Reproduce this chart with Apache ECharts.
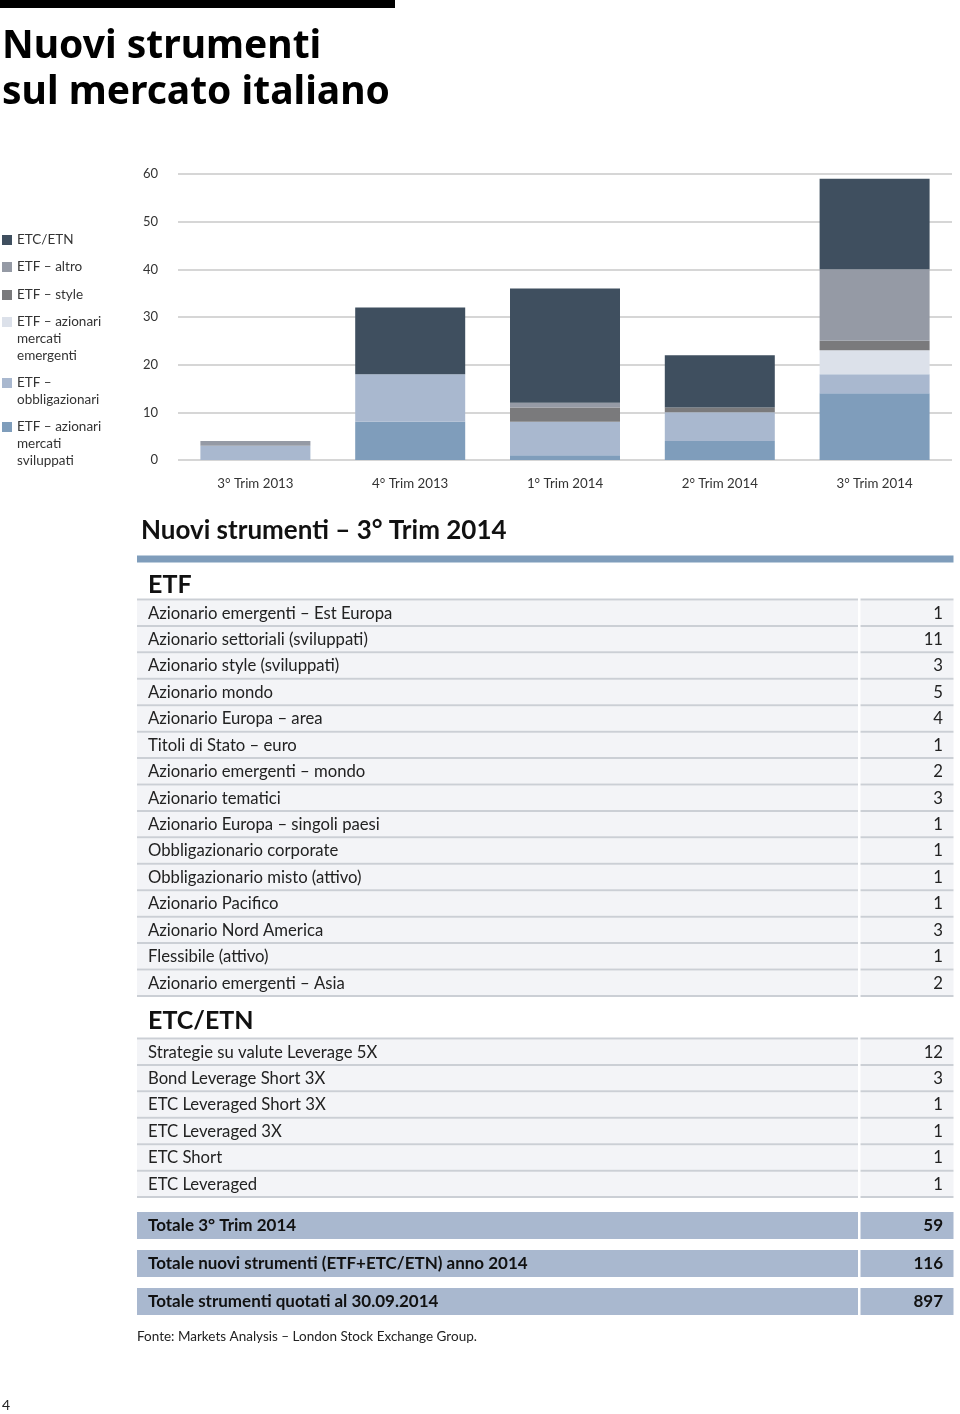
<!DOCTYPE html>
<html>
<head>
<meta charset="utf-8">
<script src="https://cdn.jsdelivr.net/npm/echarts@6/dist/echarts.min.js"></script>
<style>
html,body{margin:0;padding:0;background:#fff;}
#chart{width:960px;height:1414px;}
</style>
</head>
<body>
<div id="chart"></div>
<script>
// ---- Chart data ----
const categories = ['3° Trim 2013', '4° Trim 2013', '1° Trim 2014', '2° Trim 2014', '3° Trim 2014'];
const yTicks = [0, 10, 20, 30, 40, 50, 60];
const etfSviluppati = [0, 8, 1, 4, 14];
const etfObbligazionari = [3, 10, 7, 6, 4];
const etfEmergenti = [0, 0, 0, 0, 5];
const etfStyle = [0, 0, 3, 1, 2];
const etfAltro = [1, 0, 1, 0, 15];
const etcEtn = [0, 14, 24, 11, 19];

const seriesNames = ['ETF – azionari mercati sviluppati', 'ETF – obbligazionari', 'ETF – azionari mercati emergenti', 'ETF – style', 'ETF – altro', 'ETC/ETN'];
const legendOrder = ['ETC/ETN', 'ETF – altro', 'ETF – style', 'ETF – azionari mercati emergenti', 'ETF – obbligazionari', 'ETF – azionari mercati sviluppati'];
const legendLabels = ['ETC/ETN', 'ETF – altro', 'ETF – style', 'ETF – azionari\nmercati\nemergenti', 'ETF –\nobbligazionari', 'ETF – azionari\nmercati\nsviluppati'];

// ---- Table data ----
const pageTitle = 'Nuovi strumenti\nsul mercato italiano';
const tableTitle = 'Nuovi strumenti – 3° Trim 2014';
const etfHeader = 'ETF';
const etfLabels = ['Azionario emergenti – Est Europa', 'Azionario settoriali (sviluppati)', 'Azionario style (sviluppati)', 'Azionario mondo', 'Azionario Europa – area', 'Titoli di Stato – euro', 'Azionario emergenti – mondo', 'Azionario tematici', 'Azionario Europa – singoli paesi', 'Obbligazionario corporate', 'Obbligazionario misto (attivo)', 'Azionario Pacifico', 'Azionario Nord America', 'Flessibile (attivo)', 'Azionario emergenti – Asia'];
const etfValues = [1, 11, 3, 5, 4, 1, 2, 3, 1, 1, 1, 1, 3, 1, 2];
const etcHeader = 'ETC/ETN';
const etcLabels = ['Strategie su valute Leverage 5X', 'Bond Leverage Short 3X', 'ETC Leveraged Short 3X', 'ETC Leveraged 3X', 'ETC Short', 'ETC Leveraged'];
const etcValues = [12, 3, 1, 1, 1, 1];
const totalLabels = ['Totale 3° Trim 2014', 'Totale nuovi strumenti (ETF+ETC/ETN) anno 2014', 'Totale strumenti quotati al 30.09.2014'];
const totalValues = [59, 116, 897];
const sourceNote = 'Fonte: Markets Analysis – London Stock Exchange Group.';
const pageNumber = '4';

// ---- Styling ----
const FONT = 'Lato';
const colors = {
  'ETF – azionari mercati sviluppati': '#7f9dbb',
  'ETF – obbligazionari': '#a9b8cf',
  'ETF – azionari mercati emergenti': '#dce1ea',
  'ETF – style': '#7a7a7c',
  'ETF – altro': '#959aa5',
  'ETC/ETN': '#3f4f5f'
};
const seriesData = [etfSviluppati, etfObbligazionari, etfEmergenti, etfStyle, etfAltro, etcEtn];

const legendY = [240, 267, 295, 322, 383, 427];
const legends = legendOrder.map((name, i) => {
  const label = legendLabels[i];
  const n = label.split('\n').length;
  // blank leading lines so the first text line sits level with the icon
  const shown = '\n'.repeat(n - 1) + label;
  return {
    data: [name], orient: 'vertical', left: 2, top: legendY[i] - (2 * n - 1) * 8.5,
    padding: 0, itemWidth: 10, itemHeight: 10, itemGap: 0, icon: 'rect',
    selectedMode: false, formatter: () => shown,
    textStyle: { fontFamily: FONT, fontSize: 13.5, lineHeight: 17, color: '#333' }
  };
});

// ---- Table graphics ----
const g = [];
g.push({ type: 'rect', shape: { x: 0, y: 0, width: 395, height: 8 }, style: { fill: '#000' } });
g.push({ type: 'text', x: 2, y: 24, style: { text: pageTitle, font: 'bold 39px "Noto Sans"', fill: '#000', lineHeight: 46 } });
g.push({ type: 'text', x: 141, y: 531, style: { text: tableTitle, font: 'bold 26px ' + FONT, fill: '#111', verticalAlign: 'middle' } });
const L = 137, LR = 858, VL = 860.5, R = 953.5, ROWH = 26.43;
g.push({ type: 'rect', shape: { x: L, y: 555.5, width: R - L, height: 7 }, style: { fill: '#7f9dbb' } });

function addRows(labels, values, top0) {
  labels.forEach((lab, i) => {
    const top = top0 + i * ROWH;
    g.push({ type: 'rect', shape: { x: L, y: top + 2, width: LR - L, height: ROWH - 2 }, style: { fill: '#f3f4f7' } });
    g.push({ type: 'rect', shape: { x: VL, y: top + 2, width: R - VL, height: ROWH - 2 }, style: { fill: '#f3f4f7' } });
    g.push({ type: 'rect', shape: { x: L, y: top, width: LR - L, height: 2 }, style: { fill: '#cbcfd5' } });
    g.push({ type: 'rect', shape: { x: VL, y: top, width: R - VL, height: 2 }, style: { fill: '#cbcfd5' } });
    g.push({ type: 'text', x: 148, y: top + ROWH / 2 + 1.5, style: { text: lab, font: '16.7px ' + FONT, fill: '#222', verticalAlign: 'middle' } });
    g.push({ type: 'text', x: 943, y: top + ROWH / 2 + 1.5, style: { text: String(values[i]), font: '16.7px ' + FONT, fill: '#222', verticalAlign: 'middle', align: 'right' } });
  });
  const bottom = top0 + labels.length * ROWH;
  g.push({ type: 'rect', shape: { x: L, y: bottom, width: LR - L, height: 2 }, style: { fill: '#cbcfd5' } });
  g.push({ type: 'rect', shape: { x: VL, y: bottom, width: R - VL, height: 2 }, style: { fill: '#cbcfd5' } });
}
g.push({ type: 'text', x: 148, y: 585, style: { text: etfHeader, font: 'bold 25px ' + FONT, fill: '#111', verticalAlign: 'middle' } });
addRows(etfLabels, etfValues, 598.5);
g.push({ type: 'text', x: 148, y: 1021, style: { text: etcHeader, font: 'bold 25px ' + FONT, fill: '#111', verticalAlign: 'middle' } });
addRows(etcLabels, etcValues, 1037.5);

const totTops = [1212, 1250, 1288];
totalLabels.forEach((lab, i) => {
  const top = totTops[i];
  g.push({ type: 'rect', shape: { x: L, y: top, width: LR - L, height: 27 }, style: { fill: '#a9b8cf' } });
  g.push({ type: 'rect', shape: { x: VL, y: top, width: R - VL, height: 27 }, style: { fill: '#a9b8cf' } });
  g.push({ type: 'text', x: 148, y: top + 14, style: { text: lab, font: 'bold 17px ' + FONT, fill: '#111', verticalAlign: 'middle' } });
  g.push({ type: 'text', x: 943, y: top + 14, style: { text: String(totalValues[i]), font: 'bold 17px ' + FONT, fill: '#111', verticalAlign: 'middle', align: 'right' } });
});
g.push({ type: 'text', x: 137, y: 1337, style: { text: sourceNote, font: '13.5px ' + FONT, fill: '#222', verticalAlign: 'middle' } });
g.push({ type: 'text', x: 2, y: 1405, style: { text: pageNumber, font: '14px ' + FONT, fill: '#222', verticalAlign: 'middle' } });

const chart = echarts.init(document.getElementById('chart'), null, { renderer: 'canvas' });
chart.setOption({
  animation: false,
  backgroundColor: '#fff',
  textStyle: { fontFamily: FONT },
  legend: legends,
  grid: { left: 178, right: 8, top: 174, height: 286, containLabel: false },
  xAxis: {
    type: 'category', data: categories,
    axisLine: { show: false }, axisTick: { show: false },
    axisLabel: { color: '#333', fontSize: 13.3, margin: 17, fontFamily: FONT }
  },
  yAxis: {
    type: 'value', min: yTicks[0], max: yTicks[yTicks.length - 1], interval: yTicks[1] - yTicks[0],
    axisLine: { show: false }, axisTick: { show: false },
    axisLabel: { color: '#333', fontSize: 13, margin: 20, fontFamily: FONT },
    splitLine: { lineStyle: { color: '#d6d6d6', width: 2 } }
  },
  series: seriesNames.map((name, i) => ({
    name, type: 'bar', stack: 'total', barWidth: 110, data: seriesData[i],
    itemStyle: { color: colors[name] }
  })),
  graphic: g
});
</script>
</body>
</html>
